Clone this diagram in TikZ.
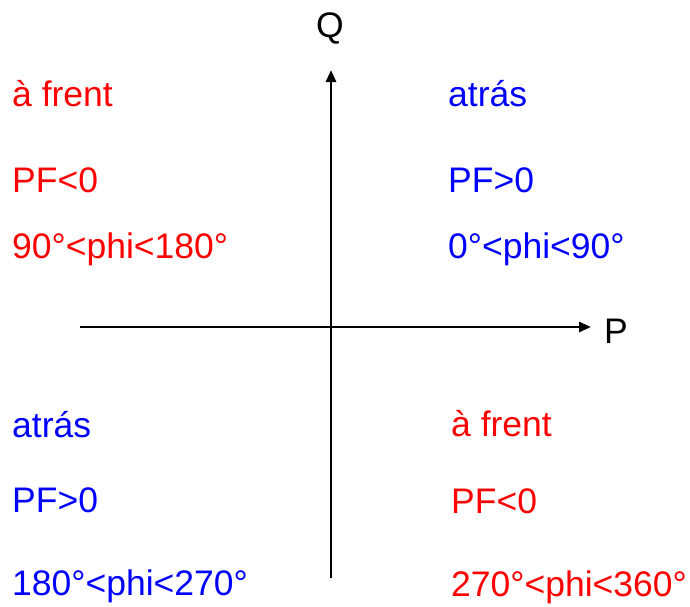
\documentclass[tikz,border=0pt]{standalone}
\usepackage{fontspec}
\setmainfont{Liberation Sans}
\usetikzlibrary{arrows.meta}
\definecolor{qred}{RGB}{255,0,0}
\definecolor{qblue}{RGB}{0,0,255}
\begin{document}
\begin{tikzpicture}[x=1pt,y=-1pt,
  lbl/.style={anchor=base west,inner sep=0pt,font=\fontsize{35.5}{40}\selectfont},
  redt/.style={lbl,text=qred},
  bluet/.style={lbl,text=qblue},
  axis/.style={line width=2.7pt,-{Triangle[length=12pt,width=10pt]}}]
\useasboundingbox (0,0) rectangle (690,606);
\coordinate (ys) at (331,578);
\coordinate (ye) at (331,70);
\coordinate (xs) at (80,327);
\coordinate (xe) at (591,327);
\draw[axis] (ys) -- (ye);
\draw[axis] (xs) -- (xe);
\node[lbl,anchor=base] (q) at (330,37) {Q};
\node[lbl] (p) at (604,343) {P};
% top left
\node[redt] (tl1) at (12,106) {à frent};
\node[redt] (tl2) at (12,192) {PF<0};
\node[redt] (tl3) at (12,258) {90°<phi<180°};
% top right
\node[bluet] (tr1) at (448,106) {atrás};
\node[bluet] (tr2) at (448,192) {PF>0};
\node[bluet] (tr3) at (448,258) {0°<phi<90°};
% bottom left
\node[bluet] (bl1) at (12,437) {atrás};
\node[bluet] (bl2) at (12,512) {PF>0};
\node[bluet] (bl3) at (12,595) {180°<phi<270°};
% bottom right
\node[redt] (br1) at (451,436) {à frent};
\node[redt] (br2) at (451,513) {PF<0};
\node[redt] (br3) at (451,596) {270°<phi<360°};
\end{tikzpicture}
\end{document}
